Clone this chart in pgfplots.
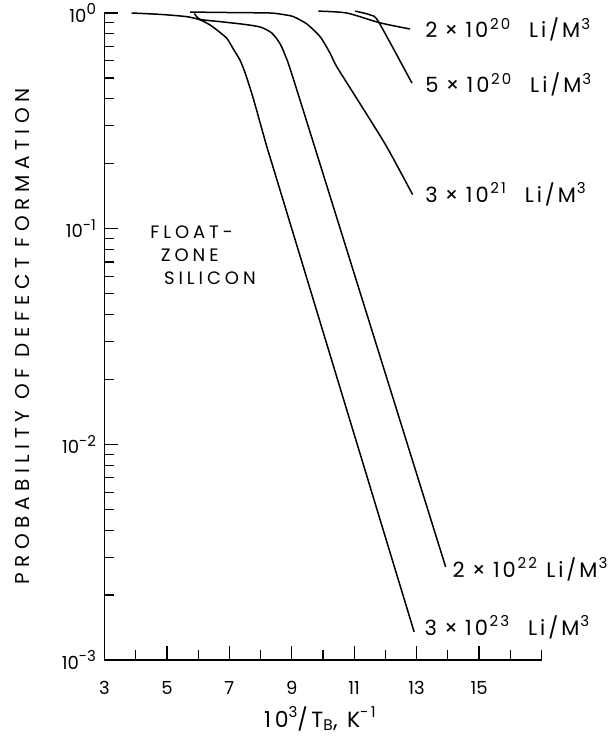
\documentclass[border=0pt]{standalone}
\usepackage{fontspec}
\setmainfont{Poppins}
\usepackage{pgfplots}
\pgfplotsset{compat=1.18}
\pgfplotsset{curve/.style={black, line width=1.5pt, smooth, tension=0.4, mark=none}}
\newcommand{\sups}[1]{\raisebox{0.42em}{\fontsize{15}{15}\selectfont #1}}
\newcommand{\clab}[3][0.9em]{\fontsize{21}{24}\selectfont\addfontfeatures{LetterSpace=14}#2\hspace{0.35em}×\hspace{0.35em}10\hspace{0.08em}\sups{#3}\hspace{#1}Li/M\hspace{0.05em}\sups{3}}
\newcommand{\fz}[1]{\fontsize{18}{21}\selectfont\addfontfeatures{LetterSpace=22}#1}
\begin{document}
\begin{tikzpicture}[font=\fontsize{18}{21}\selectfont]
\useasboundingbox (-104.5pt,-78pt) rectangle (505.5pt,660pt);
\begin{axis}[
  scale only axis, width=437pt, height=647pt,
  xmin=3, xmax=17, ymin=1e-3, ymax=1, ymode=log,
  axis lines*=left,
  axis line style={line width=1.1pt},
  xtick={3,5,7,9,11,13,15}, xticklabels={3,5,7,9,11,13,15},
  minor xtick={4,6,8,10,12,14,16,17},
  ytick={0.001,0.01,0.1,1},
  yticklabels={10\sups{-3},10\sups{-2},10\sups{-1},10\sups{0}},
  minor ytick={0.002,0.003,0.004,0.005,0.006,0.007,0.008,0.009,
               0.02,0.03,0.04,0.05,0.06,0.07,0.08,0.09,
               0.2,0.3,0.4,0.5,0.6,0.7,0.8,0.9},
  tick align=inside,
  major tick length=14pt, minor tick length=10pt,
  every tick/.style={draw=black, line width=1.2pt},
  every major tick/.style={draw=black, line width=1.2pt},
  every minor tick/.style={draw=black, line width=1.2pt},
  xticklabel style={yshift=-18pt},
  yticklabel style={xshift=-5pt},
  xlabel={\fontsize{22}{25}\selectfont\addfontfeatures{LetterSpace=16}10\sups{3}/T\textsubscript{B}, K\sups{-1}},
  xlabel style={at={(axis description cs:0.493,0)}, anchor=base, yshift=-67pt},
  ylabel={\fontsize{20}{23}\selectfont\addfontfeatures{LetterSpace=28}PROBABILITY OF DEFECT FORMATION},
  ylabel style={at={(axis description cs:0,0.5)}, anchor=center, yshift=82pt},
  clip=false,
]
% 3e23
\addplot[curve] coordinates {(3.87,1.0) (4.8,0.985) (5.63,0.962) (6.06,0.93) (6.38,0.88) (6.6,0.834) (6.92,0.763) (7.13,0.68) (7.34,0.605) (7.5,0.53) (7.77,0.40) (8.2,0.24) (8.6,0.155) (12.92,0.00135)};
% 2e22
\addplot[curve] coordinates {(5.88,0.995) (6.06,0.935) (6.7,0.912) (7.5,0.885) (8.0,0.86) (8.35,0.81) (8.6,0.73) (8.8,0.63) (9.3,0.38) (13.93,0.0027)};
% 3e21
\addplot[curve] coordinates {(5.74,1.01) (7.0,1.005) (8.3,1.0) (8.7,0.985) (9.05,0.962) (9.48,0.89) (9.91,0.776) (10.23,0.65) (10.44,0.564) (11.2,0.377) (12.04,0.24) (12.87,0.144)};
% 5e20
\addplot[curve] coordinates {(11.03,1.02) (11.51,0.98) (11.78,0.91) (12.85,0.473)};
% 2e20
\addplot[curve] coordinates {(9.85,1.02) (10.76,1.0) (11.83,0.90) (12.79,0.843)};

\node[anchor=base west, inner sep=0pt] at (axis cs:13.27,0.766) {\clab{2}{20}};
\node[anchor=base west, inner sep=0pt] at (axis cs:13.27,0.426) {\clab{5}{20}};
\node[anchor=base west, inner sep=0pt] at (axis cs:13.27,0.132) {\clab{3}{21}};
\node[anchor=base west, inner sep=0pt] at (axis cs:14.15,0.00242) {\clab[0.45em]{2}{22}};
\node[anchor=base west, inner sep=0pt] at (axis cs:13.25,0.0013) {\clab{3}{23}};
\node[anchor=base west, inner sep=0pt] at (axis cs:4.46,0.09) {\fz{FLOAT-}};
\node[anchor=base west, inner sep=0pt] at (axis cs:4.80,0.0705) {\fz{ZONE}};
\node[anchor=base west, inner sep=0pt] at (axis cs:4.90,0.0549) {\fz{SILICON}};
\end{axis}
\end{tikzpicture}
\end{document}
